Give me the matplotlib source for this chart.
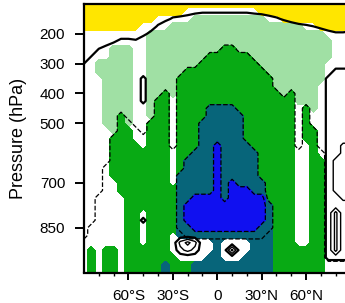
import numpy as np
import matplotlib
matplotlib.use("Agg")
import matplotlib.pyplot as plt

plt.rcParams['font.family'] = ['Liberation Sans', 'DejaVu Sans']

# grid: latitude every 5 deg, pressure every 25 hPa
lats = np.arange(-90, 91, 5)
plevs = np.arange(100, 1001, 25)

# shaded field, one run-length string per latitude column (top -> bottom)
# Y yellow, W white, L light green, G green, T teal, B blue
shade_cols = [
    "Y*4 W*33",
    "Y*4 W*29 G*4",
    "Y*4 W*4 L*2 W*27",
    "Y*4 W*4 L*9 W*16 G*4",
    "Y*4 W*2 L*12 G*6 W*9 G*4",
    "Y*4 W*2 L*9 G*11 W*11",
    "Y*4 W*2 L*11 G*20",
    "Y*4 W*15 G*18",
    "Y*3 W*17 G*8 W*5 G*4",
    "Y*3 W*1 L*12 G*21",
    "Y*2 W*2 L*9 G*24",
    "Y*2 W*2 L*8 G*23 T*2",
    "Y*2 W*1 L*10 W*12 G*6 W*3 G*3",
    "Y*2 W*1 L*7 G*13 T*9 W*3 G*2",
    "Y*1 W*2 L*6 G*12 T*6 B*3 T*2 W*3 G*2",
    "Y*1 W*1 L*7 G*11 T*6 B*5 T*1 W*3 T*2",
    "Y*1 W*1 L*6 G*8 T*10 B*5 T*1 W*3 T*2",
    "Y*1 W*1 L*5 G*7 T*12 B*5 T*1 W*2 T*3",
    "Y*1 W*1 L*5 G*7 T*5 B*12 T*6",
    "Y*1 W*1 L*4 G*8 T*13 B*4 T*1 W*3 T*2",
    "Y*1 W*1 L*4 G*8 T*10 B*7 T*1 W*3 T*2",
    "Y*1 W*1 L*5 G*8 T*10 B*6 T*1 W*3 T*2",
    "Y*1 W*1 L*5 G*12 T*6 B*6 T*1 W*2 T*3",
    "Y*1 W*1 L*6 G*12 T*6 B*5 T*6",
    "Y*2 L*7 G*15 T*2 B*4 T*7",
    "Y*2 W*1 L*7 G*17 T*10",
    "Y*2 W*1 L*9 G*25",
    "Y*3 L*10 G*24",
    "Y*3 L*9 G*25",
    "Y*3 L*11 W*19 G*4",
    "Y*3 W*1 L*10 G*5 W*14 G*4",
    "Y*3 W*1 L*11 W*2 G*20",
    "Y*4 L*7 W*10 G*16",
    "Y*4 W*1 L*3 W*29",
    "Y*4 W*33",
    "Y*4 W*33",
    "Y*4 W*33",
]
shade_codes = {"Y": 0, "W": 1, "L": 2, "G": 3, "T": 4, "B": 5}
yellow, light_green, green, teal, blue = "#ffe600", "#a0e0a4", "#08aa14", "#07657a", "#1010f0"

# upper boundary line (solid, thick)
tropo_cols = [
    "9*8 5*1 0*28", "9*7 5*1 0*29", "9*6 5*1 0*30", "9*6 2*1 0*30",
    "9*5 6*1 0*31", "9*5 3*1 0*31", "9*5 3*1 0*31", "9*5 4*1 0*31",
    "9*4 7*1 0*32", "9*4 3*1 0*32", "9*3 4*1 0*33", "9*2 7*1 0*34",
    "9*2 4*1 0*34", "9*2 3*1 0*34", "9*2 1*1 0*34", "9*1 7*1 0*35",
    "9*1 6*1 0*35", "9*1 6*1 0*35", "9*1 6*1 0*35", "9*1 6*1 0*35",
    "9*1 6*1 0*35", "9*1 6*1 0*35", "9*1 6*1 0*35", "9*1 7*1 0*35",
    "9*1 8*1 0*35", "9*2 2*1 0*34", "9*2 4*1 0*34", "9*2 6*1 0*34",
    "9*3 0*34", "9*3 3*1 0*33", "9*3 4*1 0*33", "9*3 5*1 0*33",
    "9*3 7*1 0*33", "9*4 2*1 0*32", "9*4 4*1 0*32", "9*4 4*1 0*32",
    "9*4 3*1 0*32",
]
tropo_level = [5]

# positive field (solid contours)
solid_cols = [
    "0*37", "0*37", "0*37", "0*37", "0*37", "0*37", "0*37", "0*37",
    "0*10 3*4 0*15 3*1 0*7",
    "0*37", "0*37", "0*37", "0*37",
    "0*32 6*1 4*1 0*3",
    "0*32 9*1 6*1 0*3",
    "0*32 6*1 4*1 0*3",
    "0*37", "0*37", "0*37",
    "0*33 1*1 0*3",
    "0*33 9*1 0*3",
    "0*33 1*1 0*3",
    "0*37", "0*37", "0*37", "0*37", "0*37", "0*37", "0*37",
    "0*37", "0*37", "0*37", "0*37",
    "0*10 3*25 0*2",
    "0*9 3*12 6*5 3*2 9*6 3*1 0*2",
    "0*9 3*10 6*8 3*8 0*2",
    "0*9 3*10 6*8 3*8 0*2",
]
solid_levels = [2, 5, 8]

# negative field (dashed contours)
dash_cols = [
    "0*32 1*5",
    "0*30 1*7",
    "0*26 1*11",
    "0*22 1*15",
    "0*18 1*19",
    "0*15 1*22",
    "0*16 1*21",
    "0*17 1*20",
    "0*18 1*19",
    "0*16 1*21",
    "0*13 1*24",
    "0*12 1*25",
    "0*20 1*17",
    "0*10 1*13 2*8 1*6",
    "0*9 1*12 2*6 3*3 2*2 1*5",
    "0*9 1*11 2*6 3*5 2*1 1*5",
    "0*8 1*8 2*10 3*5 2*1 1*5",
    "0*7 1*7 2*12 3*5 2*1 1*5",
    "0*7 1*7 2*5 3*12 2*1 1*5",
    "0*6 1*8 2*13 3*4 2*1 1*5",
    "0*6 1*8 2*10 3*7 2*1 1*5",
    "0*7 1*8 2*10 3*6 2*1 1*5",
    "0*7 1*12 2*6 3*6 2*1 1*5",
    "0*8 1*12 2*6 3*5 2*1 1*5",
    "0*9 1*15 2*2 3*4 2*2 1*5",
    "0*10 1*17 2*4 1*6",
    "0*12 1*25",
    "0*13 1*24",
    "0*12 1*25",
    "0*20 1*17",
    "0*14 1*23",
    "0*17 1*20",
    "0*20 1*17",
    "0*35 1*2",
    "0*35 1*2",
    "0*35 1*2",
    "0*35 1*2",
]
dash_levels = [0.5, 1.5, 2.5]

xticks = [-60, -30, 0, 30, 60]
xlabels = ["60\u00b0S", "30\u00b0S", "0", "30\u00b0N", "60\u00b0N"]
yticks = [200, 300, 400, 500, 700, 850]


def decode(cols, table=None):
    out = []
    for c in cols:
        vals = []
        for tok in c.split():
            ch, n = tok.split("*")
            v = table[ch] if table else float(ch)
            vals += [v] * int(n)
        assert len(vals) == len(plevs), c
        out.append(vals)
    assert len(out) == len(lats)
    return np.array(out, dtype=float).T


shade = decode(shade_cols, shade_codes)
tropo = decode(tropo_cols)
solid = decode(solid_cols)
dash = decode(dash_cols)

fig = plt.figure(figsize=(3.45, 3.03), dpi=100)
ax = fig.add_axes([84 / 345, 30.5 / 303, 266.5 / 345, 268.5 / 303])

# shading: each class as its own mask so no in-between colours appear
masks = [
    (shade == 2, light_green),
    (shade >= 3, green),
    (shade >= 4, teal),
    (shade == 5, blue),
    (shade == 0, yellow),
]
for m, c in masks:
    ax.contourf(lats, plevs, m.astype(float), levels=[0.5, 1.5], colors=[c],
                antialiased=False)

ax.contour(lats, plevs, tropo, levels=tropo_level, colors="k", linewidths=1.6)
ax.contour(lats, plevs, solid, levels=solid_levels, colors="k",
           linewidths=[1.6, 1.0, 1.0], linestyles="solid")
ax.contour(lats, plevs, dash, levels=dash_levels, colors="k",
           linewidths=0.9, linestyles="--")

ax.set_xlim(-90, 90)
ax.set_ylim(1000, 100)
ax.set_xticks(xticks)
ax.set_xticklabels(xlabels)
ax.set_xticks(np.arange(-80, 81, 10), minor=True)
ax.set_yticks(yticks)
ax.set_yticklabels([str(v) for v in yticks])
ax.tick_params(axis="both", which="major", direction="out", width=1.4,
               labelsize=11)
ax.tick_params(axis="x", which="major", length=5, pad=7)
ax.tick_params(axis="x", which="minor", direction="out", length=2.5, width=1.0)
ax.tick_params(axis="y", which="major", length=6.5, pad=7)
ax.set_ylabel("Pressure (hPa)", fontsize=13, labelpad=9)
for s in ax.spines.values():
    s.set_linewidth(1.6)

fig.savefig("out.png", dpi=100)
